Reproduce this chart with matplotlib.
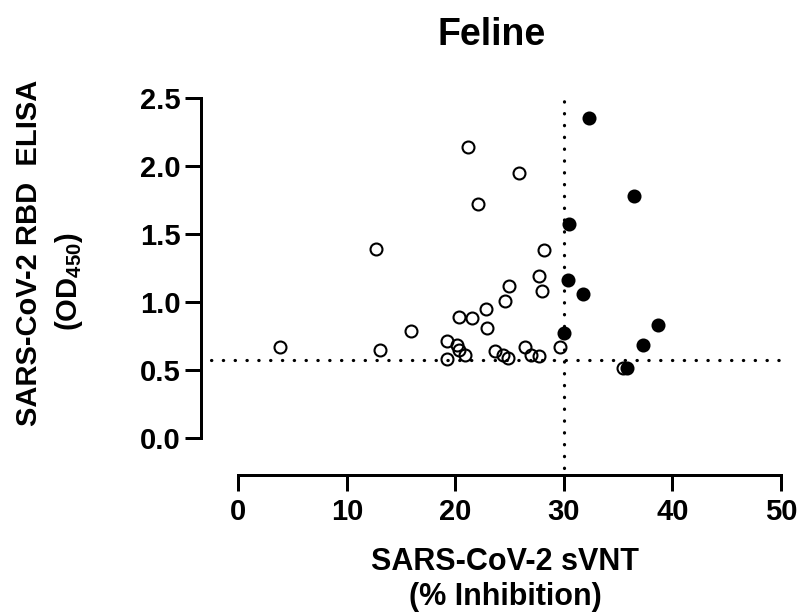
import matplotlib
matplotlib.use("Agg")
import matplotlib.pyplot as plt

plt.rcParams['font.family'] = ['Liberation Sans', 'DejaVu Sans']
plt.rcParams['font.weight'] = 'bold'
plt.rcParams['mathtext.fontset'] = 'custom'
plt.rcParams['mathtext.rm'] = 'Liberation Sans:bold'
plt.rcParams['mathtext.it'] = 'Liberation Sans:bold'
plt.rcParams['mathtext.bf'] = 'Liberation Sans:bold'

# Data (sVNT % inhibition vs RBD ELISA OD450)
open_x = [3.8, 12.7, 13.0, 15.9, 21.2, 22.1, 25.9, 28.2, 27.7, 28.0, 24.9, 24.6,
          22.8, 22.9, 20.3, 21.5, 19.2, 20.1, 20.3, 20.9, 19.2, 23.6, 24.4, 24.8,
          26.4, 27.0, 27.7, 29.6, 35.45]
open_y = [0.67, 1.39, 0.65, 0.79, 2.14, 1.72, 1.95, 1.38, 1.19, 1.08, 1.12, 1.01,
          0.95, 0.81, 0.89, 0.88, 0.71, 0.68, 0.65, 0.61, 0.58, 0.64, 0.61, 0.59,
          0.67, 0.61, 0.60, 0.67, 0.515]
filled_x = [32.3, 36.5, 30.5, 30.4, 31.8, 30.0, 38.7, 37.3, 35.8]
filled_y = [2.35, 1.78, 1.57, 1.16, 1.06, 0.77, 0.83, 0.68, 0.515]
cutoff_x = 30
cutoff_y = 0.57
x_ticks = [0, 10, 20, 30, 40, 50]
y_ticks = [0.0, 0.5, 1.0, 1.5, 2.0, 2.5]
y_ticklabels = ['0.0', '0.5', '1.0', '1.5', '2.0', '2.5']

W, H = 798, 612
fig = plt.figure(figsize=(W / 100, H / 100), dpi=100)
ax = fig.add_axes([0.2515, 0.2239, 0.7353, 0.6294])
ax.set_xlim(-3.48, 50.6)
ax.set_ylim(-0.272, 2.56)

dot = (0, (0.1, 3.6))
ax.hlines(cutoff_y, -2.5, 50, colors='black', linewidth=2.3, linestyles=dot,
          capstyle='round', zorder=1)
ax.vlines(cutoff_x, -0.22, 2.5, colors='black', linewidth=2.3, linestyles=dot,
          capstyle='round', zorder=1)

ax.plot(open_x, open_y, 'o', markersize=8.6, markerfacecolor='none',
        markeredgecolor='black', markeredgewidth=1.5, zorder=3, clip_on=False)
ax.plot(filled_x, filled_y, 'o', markersize=8.6, markerfacecolor='black',
        markeredgecolor='black', markeredgewidth=1.5, zorder=4, clip_on=False)

for s in ['top', 'right']:
    ax.spines[s].set_visible(False)
for s in ['left', 'bottom']:
    ax.spines[s].set_linewidth(2.16)
ax.spines['left'].set_bounds(0, 2.5)
ax.spines['bottom'].set_bounds(0, 50)

ax.set_xticks(x_ticks)
ax.set_xticklabels([str(t) for t in x_ticks])
ax.set_yticks(y_ticks)
ax.set_yticklabels(y_ticklabels)
ax.tick_params(axis='both', direction='out', length=11.5, width=2.16,
               labelsize=21, color='black')
ax.tick_params(axis='y', pad=2.9)
ax.tick_params(axis='x', pad=5)
for lab in ax.get_xticklabels() + ax.get_yticklabels():
    lab.set_fontweight('bold')

def fx(px):
    return px / W

def fy(py):
    return 1 - py / H

fig.text(fx(491.5), fy(45), 'Feline', ha='center', va='baseline',
         fontsize=27, fontweight='bold')
fig.text(fx(505), fy(570), 'SARS-CoV-2 sVNT', ha='center', va='baseline',
         fontsize=22, fontweight='bold')
fig.text(fx(505), fy(605), '(% Inhibition)', ha='center', va='baseline',
         fontsize=22, fontweight='bold')
fig.text(fx(29), fy(252.5), 'SARS-CoV-2 RBD  ELISA', ha='center', va='center',
         rotation=90, fontsize=21, fontweight='bold')
fig.text(fx(69), fy(281.5), '(OD$_{450}$)', ha='center', va='center',
         rotation=90, fontsize=21, fontweight='bold')

fig.savefig('out.png', dpi=100)
